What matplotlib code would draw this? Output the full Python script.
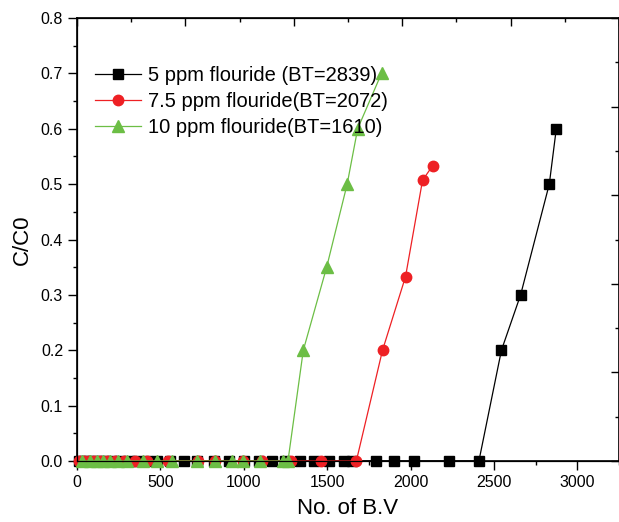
import matplotlib.pyplot as plt
from matplotlib.ticker import MultipleLocator, NullFormatter

plt.rcParams["font.family"] = ["Liberation Sans", "DejaVu Sans"]

# 5 ppm flouride
bv_5 = [10, 40, 70, 100, 135, 170, 210, 260, 310, 360, 420, 480, 560, 640, 720,
        820, 910, 1000, 1090, 1170, 1250, 1340, 1420, 1510, 1600, 1650, 1790, 1900,
        2020, 2230, 2410, 2545, 2660, 2832, 2874]
cc_5 = [0.0] * 31 + [0.2, 0.3, 0.5, 0.6]

# 7.5 ppm flouride
bv_75 = [10, 40, 70, 100, 140, 180, 230, 280, 345, 420, 545, 725, 826, 994, 1108,
         1285, 1465, 1675, 1832, 1970, 2072, 2132]
cc_75 = [0.0] * 18 + [0.2, 0.333, 0.507, 0.533]

# 10 ppm flouride
bv_10 = [30, 78, 120, 156, 198, 246, 299, 395, 479, 569, 719, 826, 928, 994, 1096,
         1234, 1265, 1357, 1497, 1620, 1683, 1826]
cc_10 = [0.0] * 17 + [0.2, 0.35, 0.5, 0.6, 0.7]

labels = ["5 ppm flouride (BT=2839)", "7.5 ppm flouride(BT=2072)",
          "10 ppm flouride(BT=1610)"]

fig = plt.figure(figsize=(6.19, 5.22), dpi=100)
ax = fig.add_axes([77 / 619, 1 - 461 / 522, 542 / 619, 443 / 522])

ax.plot(bv_5, cc_5, color="black", lw=0.9, marker="s", ms=6.5, label=labels[0],
        clip_on=False, zorder=3)
ax.plot(bv_75, cc_75, color="#EE2024", lw=0.9, marker="o", ms=7.5, label=labels[1],
        clip_on=False, zorder=4)
ax.plot(bv_10, cc_10, color="#6CBE45", lw=0.9, marker="^", ms=8.5, label=labels[2],
        clip_on=False, zorder=5)

ax.set_xlim(0, 3250)
ax.set_ylim(0, 0.8)
ax.xaxis.set_major_locator(MultipleLocator(500))
ax.xaxis.set_minor_locator(MultipleLocator(250))
ax.yaxis.set_major_locator(MultipleLocator(0.1))
ax.yaxis.set_minor_locator(MultipleLocator(0.05))
ax.yaxis.set_major_formatter(plt.FormatStrFormatter("%.1f"))
ax.tick_params(which="major", direction="out", length=6.5, width=1, labelsize=11.5)
ax.tick_params(which="minor", direction="out", length=3.2, width=1)
ax.set_xlabel("No. of B.V", fontsize=16, labelpad=6)
ax.set_ylabel("C/C0", fontsize=16, labelpad=6)
for s in ax.spines.values():
    s.set_linewidth(1.2)

# right and top frame ticks
axr = ax.twinx()
axr.set_ylim(0, 1)
axr.yaxis.set_major_locator(MultipleLocator(0.2))
axr.yaxis.set_minor_locator(MultipleLocator(0.1))
axr.yaxis.set_major_formatter(NullFormatter())
axr.tick_params(which="major", direction="in", length=6, width=1)
axr.tick_params(which="minor", direction="in", length=3, width=1)

axt = ax.twiny()
axt.set_xlim(0, 1)
axt.xaxis.set_major_locator(MultipleLocator(0.2))
axt.xaxis.set_minor_locator(MultipleLocator(0.1))
axt.xaxis.set_major_formatter(NullFormatter())
axt.tick_params(which="major", direction="in", length=6, width=1)
axt.tick_params(which="minor", direction="in", length=3, width=1)

ax.legend(loc="upper left", bbox_to_anchor=(0.033, 0.892), frameon=False,
          fontsize=14.5, handlelength=2.3, handletextpad=0.35,
          labelspacing=0.35, borderpad=0, borderaxespad=0)

fig.savefig("out.png", dpi=100)
